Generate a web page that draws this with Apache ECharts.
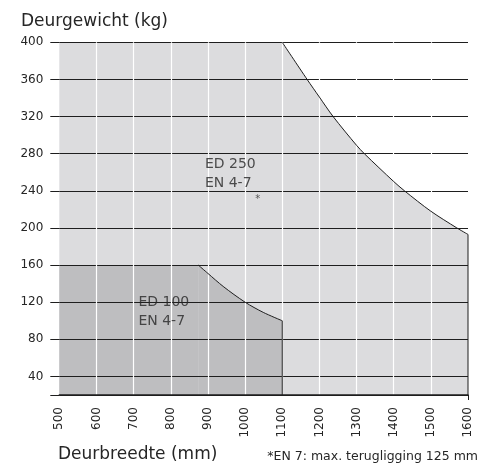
<!DOCTYPE html>
<html><head><meta charset="utf-8">
<script src="https://cdn.jsdelivr.net/npm/echarts@6/dist/echarts.min.js"></script>
<style>html,body{margin:0;padding:0;background:#fff}#c{width:487px;height:463px}</style>
</head><body><div id="c"></div>
<script>
// ---- data ----
const xTicks = [500, 600, 700, 800, 900, 1000, 1100, 1200, 1300, 1400, 1500, 1600];
const yTicks = [40, 80, 120, 160, 200, 240, 280, 320, 360, 400];
const ed250FlatX = [500, 1100];
const ed250FlatY = [400, 400];
const ed250CurveX = [1100, 1167, 1200, 1237, 1300, 1321, 1400, 1429, 1500, 1570, 1600];
const ed250CurveY = [400, 360, 341, 320, 289, 280, 250, 240, 218, 200, 193];
const ed100FlatX = [500, 874];
const ed100FlatY = [160, 160];
const ed100CurveX = [874, 900, 941, 1000, 1049, 1100];
const ed100CurveY = [160, 151, 137, 120, 109, 100];
const gridX = [600, 700, 800, 900, 1000, 1100, 1200, 1300, 1400, 1500];
const labels = [
  {text: 'ED 250\nEN 4-7', x: 892, y: 258},
  {text: 'ED 100\nEN 4-7', x: 713, y: 110}
];
const starNote = [1034, 231];

const pairs = (xs, ys) => xs.map((x, i) => [x, ys[i]]);
const FONT = 'DejaVu Sans';
const LIGHT = '#dcdcde', DARK = '#bebec0', INK = '#1e1e1e', TXT = '#262626';
const SMOOTH = 0.3;

const chart = echarts.init(document.getElementById('c'), null, {renderer: 'canvas'});
const areaSeries = (data, color, z, smooth) => ({
  type: 'line', data, symbol: 'none', z, smooth,
  lineStyle: {width: 0, opacity: 0}, areaStyle: {color, opacity: 1, origin: 'start'}, silent: true
});
const curveSeries = (data, smooth) => ({
  type: 'line', data, symbol: 'none', z: 6, smooth,
  lineStyle: {color: INK, width: 1}, silent: true
});
chart.setOption({
  animation: false,
  textStyle: {fontFamily: FONT},
  title: [
    {text: 'Deurgewicht (kg)', left: 16, top: 8, textStyle: {fontFamily: FONT, fontSize: 17, fontWeight: 'normal', color: TXT}},
    {text: 'Deurbreedte (mm)', left: 53, top: 441, textStyle: {fontFamily: FONT, fontSize: 17, fontWeight: 'normal', color: TXT}},
    {text: '*EN 7: max. terugligging 125 mm', right: 4, top: 445, textStyle: {fontFamily: FONT, fontSize: 12.5, fontWeight: 'normal', color: TXT}}
  ],
  grid: {left: 59.3, right: 19, top: 42.3, bottom: 68},
  xAxis: {
    type: 'value', min: 500, max: 1600, interval: 100, z: 8,
    axisLine: {show: true, lineStyle: {color: INK, width: 1.5}},
    axisTick: {show: true, customValues: [1600], length: 5, lineStyle: {color: INK}},
    axisLabel: {rotate: 90, margin: 12, fontSize: 12, color: TXT, fontFamily: FONT, formatter: v => String(v)},
    splitLine: {show: false}
  },
  yAxis: {
    type: 'value', min: 20, max: 400, z: 3,
    axisLine: {show: false},
    axisTick: {show: true, customValues: [20].concat(yTicks), length: 9, lineStyle: {color: INK, width: 1}},
    axisLabel: {customValues: yTicks, margin: 16, fontSize: 12, color: TXT, fontFamily: FONT},
    splitLine: {show: true, lineStyle: {color: INK, width: 1}}
  },
  series: [
    areaSeries(pairs(ed250FlatX, ed250FlatY), LIGHT, 1, false),
    areaSeries(pairs(ed250CurveX, ed250CurveY), LIGHT, 1, SMOOTH),
    areaSeries(pairs(ed100FlatX, ed100FlatY), DARK, 2, false),
    areaSeries(pairs(ed100CurveX, ed100CurveY), DARK, 2, SMOOTH),
    {
      type: 'line', data: [], z: 4, silent: true,
      markLine: {
        silent: true, symbol: 'none', label: {show: false},
        lineStyle: {color: '#ffffff', width: 1.2, type: 'solid'},
        data: gridX.map(v => ({xAxis: v}))
      }
    },
    curveSeries(pairs(ed250CurveX, ed250CurveY), SMOOTH),
    curveSeries([[1600, ed250CurveY[ed250CurveY.length - 1]], [1600, 20]], false),
    curveSeries(pairs(ed100CurveX, ed100CurveY), SMOOTH),
    curveSeries([[1100, ed100CurveY[ed100CurveY.length - 1]], [1100, 20]], false),
    {
      type: 'scatter', z: 7, symbolSize: 0, silent: true,
      data: labels.map(l => ({value: [l.x, l.y], name: l.text})),
      label: {show: true, position: 'right', distance: 0, formatter: p => p.name,
        fontSize: 14, lineHeight: 19, color: TXT, fontFamily: FONT}
    },
    {
      type: 'scatter', z: 7, symbolSize: 0, silent: true,
      data: [starNote],
      label: {show: true, position: 'inside', formatter: '*', fontSize: 10, color: '#333', fontFamily: FONT}
    }
  ]
});
</script></body></html>
